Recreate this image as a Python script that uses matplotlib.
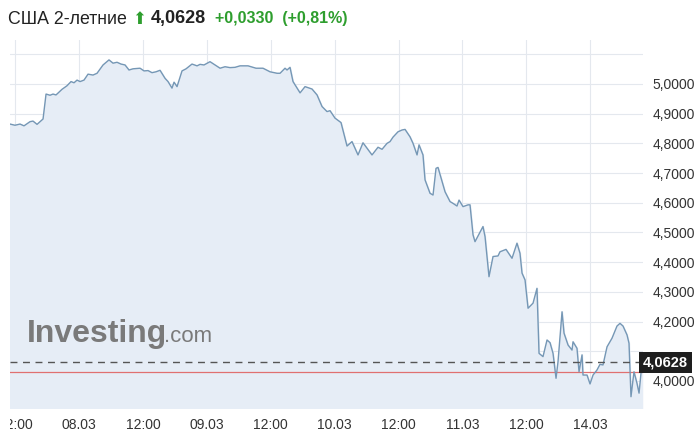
import matplotlib.pyplot as plt
from matplotlib.ticker import FixedLocator, FuncFormatter
from matplotlib.transforms import Bbox, TransformedBbox

plt.rcParams['font.family'] = ['Liberation Sans', 'DejaVu Sans']

# Данные: позиция по оси времени (в интервалах между подписями) и доходность
t = [-1.080, -1.002, -0.923, -0.861, -0.767, -0.720, -0.657, -0.563, -0.516, -0.454,
     -0.407, -0.360, -0.266, -0.188, -0.125, -0.078, -0.031, 0.016, 0.078, 0.141,
     0.219, 0.282, 0.376, 0.469, 0.532, 0.595, 0.657, 0.720, 0.782, 0.845,
     0.955, 1.017, 1.080, 1.142, 1.205, 1.268, 1.346, 1.393, 1.455, 1.487,
     1.534, 1.612, 1.675, 1.768, 1.847, 1.894, 1.956, 2.050, 2.128, 2.207,
     2.285, 2.363, 2.441, 2.520, 2.645, 2.770, 2.879, 2.989, 3.099, 3.146,
     3.224, 3.255, 3.302, 3.349, 3.459, 3.537, 3.646, 3.725, 3.803, 3.881,
     3.928, 4.006, 4.100, 4.194, 4.272, 4.366, 4.444, 4.585, 4.679, 4.742,
     4.820, 4.867, 4.914, 4.992, 5.055, 5.102, 5.180, 5.227, 5.290, 5.321,
     5.383, 5.415, 5.493, 5.540, 5.587, 5.618, 5.728, 5.806, 5.853, 5.915,
     5.947, 6.009, 6.088, 6.119, 6.166, 6.197, 6.322, 6.354, 6.416, 6.479,
     6.557, 6.588, 6.682, 6.776, 6.854, 6.901, 6.933, 6.980, 7.027, 7.105,
     7.167, 7.199, 7.261, 7.324, 7.371, 7.418, 7.465, 7.496, 7.559, 7.590,
     7.653, 7.715, 7.731, 7.793, 7.825, 7.872, 7.887, 7.950, 7.997, 8.044,
     8.106, 8.153, 8.200, 8.263, 8.341, 8.419, 8.466, 8.513, 8.576, 8.607,
     8.638, 8.685, 8.732, 8.764, 8.811]
yld = [4.865, 4.861, 4.865, 4.859, 4.873, 4.875, 4.864, 4.882, 4.966, 4.962,
       4.966, 4.963, 4.982, 4.994, 5.008, 5.004, 5.013, 5.008, 5.013, 5.033,
       5.030, 5.036, 5.064, 5.081, 5.070, 5.073, 5.067, 5.064, 5.047, 5.051,
       5.053, 5.044, 5.045, 5.038, 5.041, 5.046, 5.019, 5.008, 4.986, 5.006,
       4.991, 5.044, 5.051, 5.067, 5.061, 5.066, 5.064, 5.075, 5.064, 5.053,
       5.058, 5.055, 5.056, 5.061, 5.061, 5.053, 5.053, 5.041, 5.036, 5.036,
       5.053, 5.047, 5.056, 5.008, 4.970, 4.991, 4.983, 4.963, 4.924, 4.907,
       4.910, 4.885, 4.870, 4.791, 4.806, 4.761, 4.802, 4.761, 4.787, 4.780,
       4.800, 4.806, 4.821, 4.839, 4.845, 4.847, 4.822, 4.800, 4.761, 4.795,
       4.761, 4.677, 4.632, 4.626, 4.716, 4.719, 4.637, 4.604, 4.598, 4.589,
       4.609, 4.587, 4.593, 4.593, 4.492, 4.469, 4.520, 4.486, 4.351, 4.419,
       4.421, 4.435, 4.443, 4.413, 4.464, 4.430, 4.363, 4.340, 4.245, 4.262,
       4.312, 4.093, 4.082, 4.138, 4.129, 4.093, 4.009, 4.065, 4.233, 4.161,
       4.121, 4.104, 4.132, 4.110, 4.031, 4.088, 4.020, 4.020, 3.990, 4.020,
       4.037, 4.056, 4.054, 4.115, 4.144, 4.185, 4.194, 4.185, 4.155, 4.127,
       3.947, 4.031, 3.992, 3.959, 4.0628]

x_ticks = [-1, 0, 1, 2, 3, 4, 5, 6, 7, 8]
x_labels = ['12:00', '08.03', '12:00', '09.03', '12:00', '10.03', '12:00', '11.03', '12:00', '14.03']
y_ticks = [3.9, 4.0, 4.1, 4.2, 4.3, 4.4, 4.5, 4.6, 4.7, 4.8, 4.9, 5.0, 5.1]
y_shown = [4.0, 4.2, 4.3, 4.4, 4.5, 4.6, 4.7, 4.8, 4.9, 5.0]

last = 4.0628
prev_close = 4.0298


def fmt(v, pos):
    if any(abs(v - s) < 1e-6 for s in y_shown):
        return f'{v:.4f}'.replace('.', ',')
    return ''


fig = plt.figure(figsize=(7, 4.38), dpi=100)
ax = fig.add_axes([10 / 700, 1 - 408 / 438, 633 / 700, 368 / 438])

ax.fill_between(t, yld, 3.8, color='#e6edf6', zorder=1)
ax.plot(t, yld, color='#7597b5', linewidth=1.0, zorder=3)

ax.axhline(prev_close, color='#e07070', linewidth=0.9, zorder=2)
ax.axhline(last, color='#555555', linewidth=1.0, linestyle=(0, (5, 4)), zorder=4)

ax.set_xlim(-1.08, 8.826)
ax.set_ylim(3.909, 5.148)

ax.xaxis.set_major_locator(FixedLocator(x_ticks))
ax.set_xticklabels(x_labels)
ax.yaxis.set_major_locator(FixedLocator(y_ticks))
ax.yaxis.tick_right()
ax.yaxis.set_major_formatter(FuncFormatter(fmt))

ax.grid(True, color='#e4e8ee', linewidth=0.8, zorder=0)
ax.set_axisbelow(True)
ax.tick_params(axis='both', length=0, labelsize=10, labelcolor='#333333')
ax.tick_params(axis='y', pad=7)
ax.tick_params(axis='x', pad=7)
for s in ax.spines.values():
    s.set_visible(False)

# первая подпись обрезана по левому краю графика, как в оригинале
clip = TransformedBbox(Bbox([[0, -0.2], [1, 1]]), ax.transAxes)
first = ax.get_xticklabels()[0]
first.set_clip_box(clip)
first.set_clip_on(True)

# Плашка с последним значением
ax.text(1.0, last, f'{last:.4f}'.replace('.', ','), transform=ax.get_yaxis_transform(),
        ha='left', va='center', fontsize=10.5, fontweight='bold', color='white',
        bbox=dict(boxstyle='square,pad=0.25', fc='#1e1e1e', ec='none'), zorder=6,
        clip_on=False)

# Водяной знак
wm = ax.text(0.027, 0.18, 'Investing', transform=ax.transAxes, fontsize=23,
             fontweight='bold', color='#7a7a7a', ha='left', va='baseline', zorder=2)
fig.canvas.draw()
bb = wm.get_window_extent().transformed(ax.transAxes.inverted())
ax.text(bb.x1 - 0.006, 0.18, '.com', transform=ax.transAxes, fontsize=16,
        color='#7a7a7a', ha='left', va='baseline', zorder=2)

# Заголовок
ty = 1 - 19 / 438
fig.text(8 / 700, ty, 'США 2-летние', fontsize=12.8, color='#222222', va='center')
fig.text(132 / 700, ty, '⬆', fontsize=12, color='#2e9e2e', va='center',
         family=['DejaVu Sans'])
fig.text(151 / 700, ty, '4,0628', fontsize=13, fontweight='bold',
         color='#222222', va='center')
fig.text(215 / 700, ty, '+0,0330  (+0,81%)', fontsize=11.5, fontweight='bold',
         color='#2e9e2e', va='center')

plt.savefig('out.png', dpi=100)
